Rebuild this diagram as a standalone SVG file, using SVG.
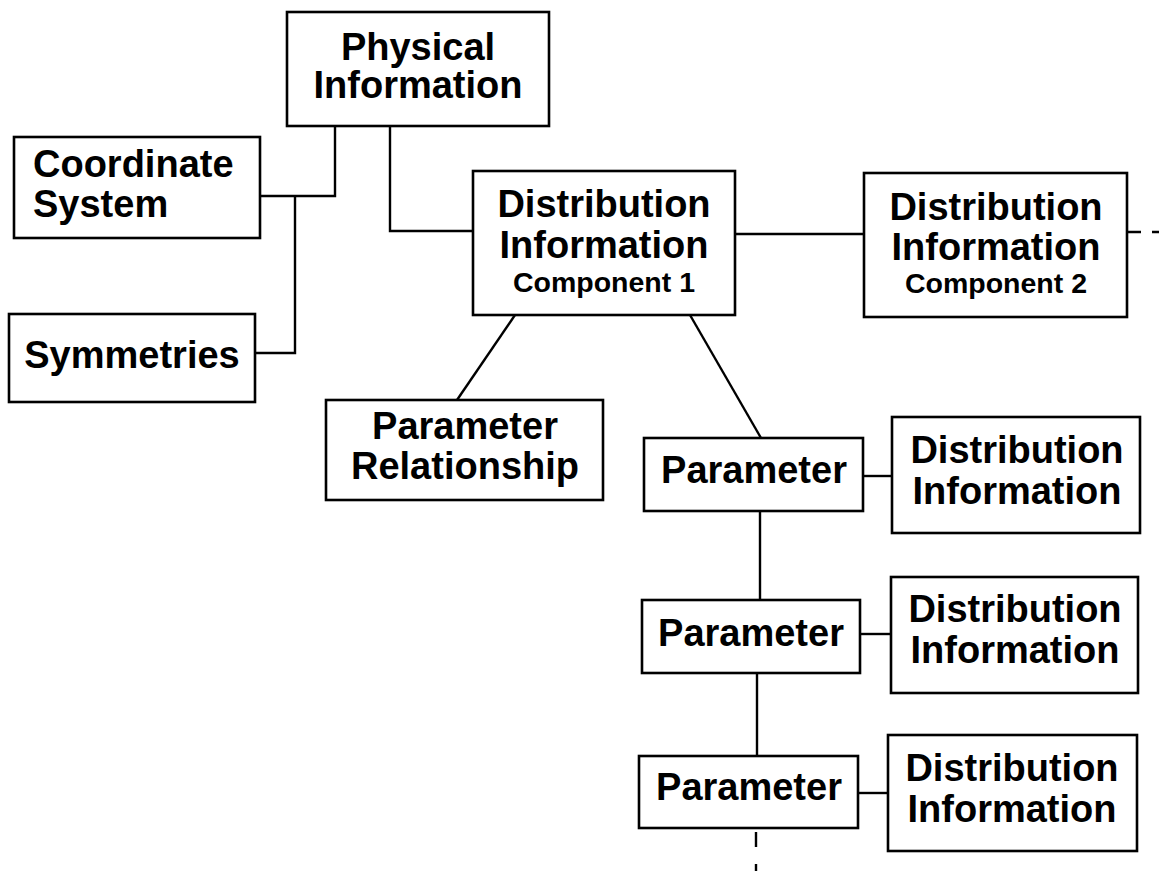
<svg xmlns="http://www.w3.org/2000/svg" width="1159" height="871" viewBox="0 0 1159 871">
<style>
.box{fill:#fff;stroke:#000;stroke-width:2.6}
.ln{fill:none;stroke:#000;stroke-width:2.4}
.dash{fill:none;stroke:#000;stroke-width:2.4;stroke-dasharray:14 11}
text{font-family:"Liberation Sans",Arial,Helvetica,sans-serif;font-weight:bold;fill:#000;font-size:38px}
.c{text-anchor:middle}
</style>
<rect width="1159" height="871" fill="#fff"/>
<g id="connectors">
<polyline class="ln" points="335,126 335,196 260,196"/>
<polyline class="ln" points="295,196 295,353 255,353"/>
<polyline class="ln" points="390,126 390,231 473,231"/>
<line class="ln" x1="735" y1="234" x2="864" y2="234"/>
<line class="dash" x1="1127" y1="232" x2="1159" y2="232"/>
<line class="ln" x1="515" y1="315" x2="457" y2="400"/>
<line class="ln" x1="690" y1="315" x2="761" y2="438"/>
<line class="ln" x1="863" y1="476" x2="892" y2="476"/>
<line class="ln" x1="760" y1="511" x2="760" y2="600"/>
<line class="ln" x1="860" y1="634" x2="891" y2="634"/>
<line class="ln" x1="757" y1="673" x2="757" y2="756"/>
<line class="ln" x1="858" y1="793" x2="888" y2="793"/>
<line class="dash" x1="756" y1="828" x2="756" y2="871" style="stroke-dasharray:0 4 15 13"/>
</g>
<g id="physical">
<rect class="box" x="287" y="12" width="262" height="114"/>
<text class="c"><tspan x="418" y="60">Physical</tspan><tspan x="418" y="98">Information</tspan></text>
</g>
<g id="coordinate">
<rect class="box" x="14" y="137" width="246" height="101"/>
<text><tspan x="33" y="177">Coordinate</tspan><tspan x="33" y="217">System</tspan></text>
</g>
<g id="symmetries">
<rect class="box" x="9" y="314" width="246" height="88"/>
<text class="c" x="132" y="368">Symmetries</text>
</g>
<g id="dist1">
<rect class="box" x="473" y="171" width="262" height="144"/>
<text class="c"><tspan x="604" y="217">Distribution</tspan><tspan x="604" y="258">Information</tspan><tspan x="604" y="292" font-size="28.5">Component 1</tspan></text>
</g>
<g id="dist2">
<rect class="box" x="864" y="173" width="263" height="144"/>
<text class="c"><tspan x="996" y="220">Distribution</tspan><tspan x="996" y="260">Information</tspan><tspan x="996" y="293" font-size="28.5">Component 2</tspan></text>
</g>
<g id="paramrel">
<rect class="box" x="326" y="400" width="277" height="100"/>
<text class="c" font-size="37"><tspan x="465" y="439">Parameter</tspan><tspan x="465" y="479">Relationship</tspan></text>
</g>
<g id="param1">
<rect class="box" x="644" y="438" width="219" height="73"/>
<text class="c" x="754" y="483">Parameter</text>
</g>
<g id="di1">
<rect class="box" x="892" y="417" width="248" height="116"/>
<text class="c"><tspan x="1017" y="463">Distribution</tspan><tspan x="1017" y="504">Information</tspan></text>
</g>
<g id="param2">
<rect class="box" x="642" y="600" width="218" height="73"/>
<text class="c" x="751" y="646">Parameter</text>
</g>
<g id="di2">
<rect class="box" x="891" y="577" width="247" height="116"/>
<text class="c"><tspan x="1015" y="622">Distribution</tspan><tspan x="1015" y="663">Information</tspan></text>
</g>
<g id="param3">
<rect class="box" x="639" y="756" width="219" height="72"/>
<text class="c" x="749" y="800">Parameter</text>
</g>
<g id="di3">
<rect class="box" x="888" y="735" width="249" height="116"/>
<text class="c"><tspan x="1012" y="781">Distribution</tspan><tspan x="1012" y="822">Information</tspan></text>
</g>
</svg>
